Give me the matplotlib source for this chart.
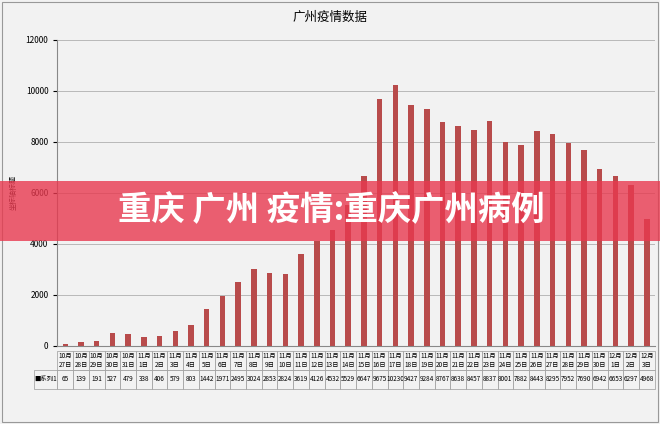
import matplotlib
matplotlib.use("Agg")
import matplotlib.pyplot as plt
from matplotlib.patches import Rectangle

plt.rcParams["font.family"] = ["Noto Sans CJK SC", "DejaVu Sans"]

dates = ["10月27日","10月28日","10月29日","10月30日","10月31日"] + \
        [f"11月{d}日" for d in range(1, 31)] + ["12月1日","12月2日","12月3日"]
values = [65,139,191,527,479,338,406,579,803,1442,1971,2495,3024,2853,2824,3619,
          4126,4532,5529,6647,9675,10230,9427,9284,8767,8638,8457,8837,8001,7882,
          8443,8295,7952,7690,6942,6653,6297,4968]
yticks = [0, 2000, 4000, 6000, 8000, 10000, 12000]

fig = plt.figure(figsize=(6.6, 4.24), dpi=100)
fig.patch.set_facecolor("#f2f2f2")
ax = fig.add_axes([0.087, 0.184, 0.905, 0.722])
ax.set_facecolor("#f2f2f2")
x = range(len(values))
ax.bar(x, values, width=0.35, color="#b84b4b")
ax.set_xlim(-0.5, len(values) - 0.5)
ax.set_ylim(0, 12000)
ax.set_yticks(yticks)
ax.tick_params(axis="y", labelsize=6, length=3)
ax.set_xticks([])
ax.yaxis.grid(True, color="#b0b0b0", lw=0.6)
ax.set_axisbelow(True)
for s in ["top", "right"]:
    ax.spines[s].set_visible(False)
ax.spines["left"].set_color("#888")
ax.spines["bottom"].set_color("#888")
ax.set_ylabel("坐标轴标题", fontsize=5, labelpad=6)
fig.text(0.5, 0.96, "广州疫情数据", ha="center", va="center", fontsize=9)

cols = [d.replace("月", "月\n") for d in dates]
tab = ax.table(cellText=[[str(v) for v in values]], colLabels=cols,
               rowLabels=["■系列1"], bbox=[0, -0.14, 1, 0.125], cellLoc="center")
tab.auto_set_font_size(False)
tab.set_fontsize(4.6)
for (r, c), cell in tab.get_celld().items():
    cell.set_edgecolor("#999")
    cell.set_linewidth(0.5)
    cell.set_facecolor("#f2f2f2")
    cell.PAD = 0.02
tab[(1, -1)].set_width(0.05)

fig.patches.append(Rectangle((0.003, 0.005), 0.994, 0.99, transform=fig.transFigure,
                             facecolor="none", edgecolor="#999", lw=0.8))
fig.patches.append(Rectangle((0, 0.432), 1, 0.142, transform=fig.transFigure,
                             facecolor="#e8394f", alpha=0.8, edgecolor="none", zorder=10))
fig.text(0.502, 0.503, "重庆 广州 疫情:重庆广州病例", ha="center", va="center",
         fontsize=24, color="white", fontweight="bold", zorder=11)
fig.savefig("out.png", dpi=100, facecolor=fig.get_facecolor())
